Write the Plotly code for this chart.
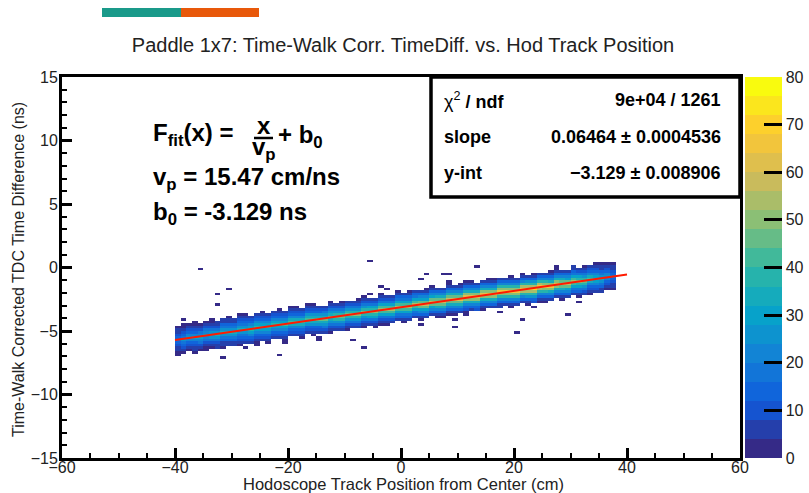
import plotly.graph_objects as go

# ---------------- data ----------------
# fit results (stats box)
chi2_ndf = "9e+04 / 1261"
slope = 0.06464
slope_err = 0.0004536
yint = -3.129
yint_err = 0.008906
v_p = 15.47
fit_range = [-40, 40]

# histogram binning
x_edges_range = [-60, 60]
n_xbins = 120
y_edges_range = [-15, 15]
n_ybins = 150

# populated band columns (bin centres, cm) and their peak bin content
band_x = [-39.5 + i for i in range(78)]
band_peak = [18, 24, 27, 28, 30, 30, 31, 32, 33, 33,
             34, 35, 35, 36, 37, 37, 38, 39, 39, 40,
             41, 41, 42, 43, 43, 44, 45, 45, 46, 47,
             47, 48, 48, 49, 50, 50, 51, 52, 52, 53,
             54, 54, 55, 56, 56, 57, 58, 58, 59, 60,
             60, 61, 62, 62, 63, 64, 64, 65, 66, 66,
             66, 67, 68, 68, 67, 66, 64, 62, 60, 57,
             54, 50, 46, 42, 38, 33, 26, 16]
# relative transverse profile of the band (offset in y-bins around the fit)
band_offsets = [-5, -4, -3, -2, -1, 0, 1, 2, 3, 4, 5]
band_profile = [0.11, 0.22, 0.35, 0.55, 0.78, 1.00, 0.78, 0.55, 0.35, 0.22, 0.11]
# sparse counts in the outermost bins (+6 above / -6 below the fit) per column
band_top_extra = [0, 2, 0, 1, 0, 0, 3, 0, 0, 1, 0, 2, 1, 0, 0, 3, 0, 0, 1, 0,
                  2, 0, 0, 1, 3, 0, 0, 2, 0, 1, 0, 0, 3, 1, 0, 0, 2, 0, 0, 1,
                  0, 3, 0, 0, 2, 1, 0, 0, 3, 0, 1, 0, 2, 0, 0, 1, 3, 0, 0, 2,
                  0, 1, 0, 3, 0, 0, 2, 1, 0, 0, 3, 0, 1, 0, 2, 0, 0, 0]
band_bot_extra = [1, 0, 0, 2, 0, 1, 0, 0, 3, 0, 0, 1, 0, 0, 2, 0, 3, 0, 0, 1,
                  0, 0, 2, 0, 1, 0, 0, 3, 0, 0, 1, 0, 0, 2, 0, 3, 0, 1, 0, 0,
                  2, 0, 0, 1, 0, 0, 3, 0, 1, 0, 0, 2, 0, 0, 1, 0, 0, 3, 0, 1,
                  0, 0, 2, 0, 0, 3, 0, 0, 1, 0, 0, 2, 0, 1, 0, 0, 0, 0]

# isolated single-count bins (x cm, y ns)
out_x = [-35.2, -32.9, -30.6, -32.2, -38.2, -31.5, -36.8, -28.0, -28.0, -25.5,
         -21.8, -20.9, -22.3, -18.8, -15.0, -15.0, -5.3, -3.9, -2.8, -5.3,
         -8.3, -6.7, -8.5, -7.4, -10.1, 13.5, 4.6, 7.4, 8.8, 3.0,
         8.8, 11.0, 27.6, 30.4, 35.0, 30.4, 31.3, 31.3, 23.7, 24.2,
         23.7, 29.0, 21.6, 20.7, 17.5, 17.9, 13.5, 14.9, 11.3, 11.3,
         9.0, 9.0, 7.4, 9.7, 3.0, -3.2]
out_y = [-0.1, -2.1, -1.6, -2.9, -4.2, -7.0, -6.4, -5.9, -6.3, -6.0,
         -6.8, -5.9, -5.5, -3.2, -5.4, -5.7, 0.6, -1.5, -1.6, -2.1,
         -5.7, -6.3, -2.6, -2.6, -2.8, 0.1, -0.4, -0.4, -0.4, -0.9,
         -1.1, -1.1, 0.1, 0.1, 0.4, -1.9, -1.9, -2.7, -2.7, -2.7,
         -3.0, -3.6, -4.0, -5.0, -3.2, -3.5, -3.3, -3.3, -3.3, -3.6,
         -3.6, -4.0, -3.9, -4.7, -4.4, -4.4]

colorbar_ticks = [0, 10, 20, 30, 40, 50, 60, 70, 80]
z_max = 80
n_levels = 20

x_title = "Hodoscope Track Position from Center (cm)"
y_title = "Time-Walk Corrected TDC Time Difference (ns)"
main_title = "Paddle 1x7: Time-Walk Corr. TimeDiff. vs. Hod Track Position"

# ---------------- build histogram ----------------
xw = (x_edges_range[1] - x_edges_range[0]) / n_xbins
yw = (y_edges_range[1] - y_edges_range[0]) / n_ybins
xc = [x_edges_range[0] + (i + 0.5) * xw for i in range(n_xbins)]
yc = [y_edges_range[0] + (j + 0.5) * yw for j in range(n_ybins)]
z = [[0] * n_xbins for _ in range(n_ybins)]


def xbin(v):
    return int((v - x_edges_range[0]) // xw)


def ybin(v):
    return int((v - y_edges_range[0]) // yw)


for bx, pk, te, be in zip(band_x, band_peak, band_top_extra, band_bot_extra):
    i = xbin(bx)
    j0 = ybin(slope * bx + yint)
    for off, fr in zip(band_offsets, band_profile):
        z[j0 + off][i] += max(round(pk * fr), 1)
    z[j0 + 6][i] += te
    z[j0 - 6][i] += be

for ox, oy in zip(out_x, out_y):
    z[ybin(oy)][xbin(ox)] += 1

zplot = [[(v if v > 0 else None) for v in row] for row in z]

# ROOT kBird palette, discretised into 20 contour levels
bird_stops = [0.0, 0.125, 0.25, 0.375, 0.5, 0.625, 0.75, 0.875, 1.0]
bird_r = [0.2082, 0.0592, 0.0780, 0.0232, 0.1802, 0.5301, 0.8186, 0.9956, 0.9764]
bird_g = [0.1664, 0.3599, 0.5041, 0.6419, 0.7178, 0.7492, 0.7328, 0.7862, 0.9832]
bird_b = [0.5293, 0.8684, 0.8385, 0.7914, 0.6425, 0.4662, 0.3499, 0.1968, 0.0539]


def bird(t):
    for k in range(len(bird_stops) - 1):
        if bird_stops[k] <= t <= bird_stops[k + 1]:
            f = (t - bird_stops[k]) / (bird_stops[k + 1] - bird_stops[k])
            r = bird_r[k] + f * (bird_r[k + 1] - bird_r[k])
            g = bird_g[k] + f * (bird_g[k + 1] - bird_g[k])
            b = bird_b[k] + f * (bird_b[k + 1] - bird_b[k])
            return "rgb(%d,%d,%d)" % (round(r * 255), round(g * 255), round(b * 255))
    return "rgb(249,251,14)"


cscale = []
for i in range(n_levels):
    c = bird(i / (n_levels - 1))
    cscale.append([i / n_levels, c])
    cscale.append([(i + 1) / n_levels, c])

# ---------------- figure ----------------
W, H = 809, 493
L, R, T, B = 62, 740, 77, 458
FONT = "Liberation Sans, Arial, Helvetica"


def PX(px):
    return (px - L) / (R - L)


def PY(py):
    return (B - py) / (B - T)


fig = go.Figure()
fig.add_trace(go.Heatmap(
    x=xc, y=yc, z=zplot, zmin=0, zmax=z_max, zsmooth=False,
    colorscale=cscale, hoverongaps=False,
    colorbar=dict(
        x=PX(745), xanchor="left", xpad=0, ypad=0,
        y=0.5, yanchor="middle", len=1, lenmode="fraction",
        thickness=37, thicknessmode="pixels", outlinewidth=0,
        tickvals=colorbar_ticks, ticks="inside", ticklen=18, tickwidth=3,
        tickcolor="black",
        tickfont=dict(family=FONT, size=16, color="#222"),
    ),
))
fig.add_trace(go.Scatter(
    x=fit_range, y=[slope * v + yint for v in fit_range], mode="lines",
    line=dict(color="#ff1a00", width=2), showlegend=False, hoverinfo="skip",
))

axis_common = dict(
    showgrid=False, zeroline=False, showline=True, linewidth=3, linecolor="black",
    mirror=True, ticks="inside", ticklen=10, tickwidth=3, tickcolor="black",
    automargin=False,
    tickfont=dict(family=FONT, size=16, color="#222"),
)
fig.update_xaxes(range=x_edges_range, dtick=20, tick0=-60, ticklabelstandoff=-7,
                 minor=dict(dtick=5, ticks="inside", ticklen=5, tickwidth=2, tickcolor="black"),
                 **axis_common)
fig.update_yaxes(range=y_edges_range, dtick=5, tick0=-15, ticklabelstandoff=-2,
                 minor=dict(dtick=1, ticks="inside", ticklen=5, tickwidth=2, tickcolor="black"),
                 **axis_common)

shapes = [
    dict(type="rect", xref="paper", yref="paper", x0=PX(102), x1=PX(181), y0=PY(17), y1=PY(8),
         fillcolor="#1a9a8a", line=dict(width=0)),
    dict(type="rect", xref="paper", yref="paper", x0=PX(181), x1=PX(259), y0=PY(17), y1=PY(8),
         fillcolor="#e8580a", line=dict(width=0)),
    dict(type="rect", xref="paper", yref="paper", x0=PX(431), x1=PX(740), y0=PY(197), y1=PY(77),
         fillcolor="white", line=dict(color="black", width=3.5)),
    dict(type="line", xref="paper", yref="paper", x0=PX(254), x1=PX(273), y0=PY(138), y1=PY(138),
         line=dict(color="black", width=2.5)),
]

BF = dict(family=FONT, size=24, color="black")
SF = dict(family=FONT, size=18, color="black")
ann = []


def A(text, px, py, font, xanchor="left", textangle=0):
    ann.append(dict(text=text, xref="paper", yref="paper", x=PX(px), y=PY(py),
                    xanchor=xanchor, yanchor="middle", showarrow=False, font=font,
                    textangle=textangle))


A("<b>F<sub>fit</sub>(x) =</b>", 151, 134, BF)
A("<b>x</b>", 264, 125, BF, "center")
A("<b>v<sub>p</sub></b>", 264, 148, BF, "center")
A("<b>+ b<sub>0</sub></b>", 276, 136, BF)
A("<b>v<sub>p</sub> = %.2f cm/ns</b>" % v_p, 151, 178, BF)
A("<b>b<sub>0</sub> = %.3f ns</b>" % yint, 151, 214, BF)

A("χ<sup>2</sup><b> / ndf</b>", 442, 100, SF)
A("<b>slope</b>", 442, 137, SF)
A("<b>y-int</b>", 442, 173, SF)
A("<b>%s</b>" % chi2_ndf, 723, 100, SF, "right")
A("<b>%.5f ± %.7f</b>" % (slope, slope_err), 723, 137, SF, "right")
A("<b>−%.3f ± %.6f</b>" % (abs(yint), yint_err), 723, 173, SF, "right")

# axis titles
A(x_title, 403, 484, dict(family=FONT, size=16.5, color="#222"), "center")
ann.append(dict(text=y_title, xref="paper", yref="paper", x=PX(18), y=PY(270),
                xanchor="center", yanchor="middle", showarrow=False, textangle=-90,
                font=dict(family=FONT, size=16, color="#222")))

fig.update_layout(
    width=W, height=H,
    margin=dict(l=L, r=W - R, t=T, b=H - B, autoexpand=False),
    paper_bgcolor="white", plot_bgcolor="white",
    shapes=shapes, annotations=ann, showlegend=False,
    title=dict(text=main_title,
               x=403 / W, xanchor="center", y=(H - 45) / H, yanchor="middle",
               xref="container", yref="container",
               font=dict(family=FONT, size=20, color="#222")),
)

fig.write_html("out.html")
